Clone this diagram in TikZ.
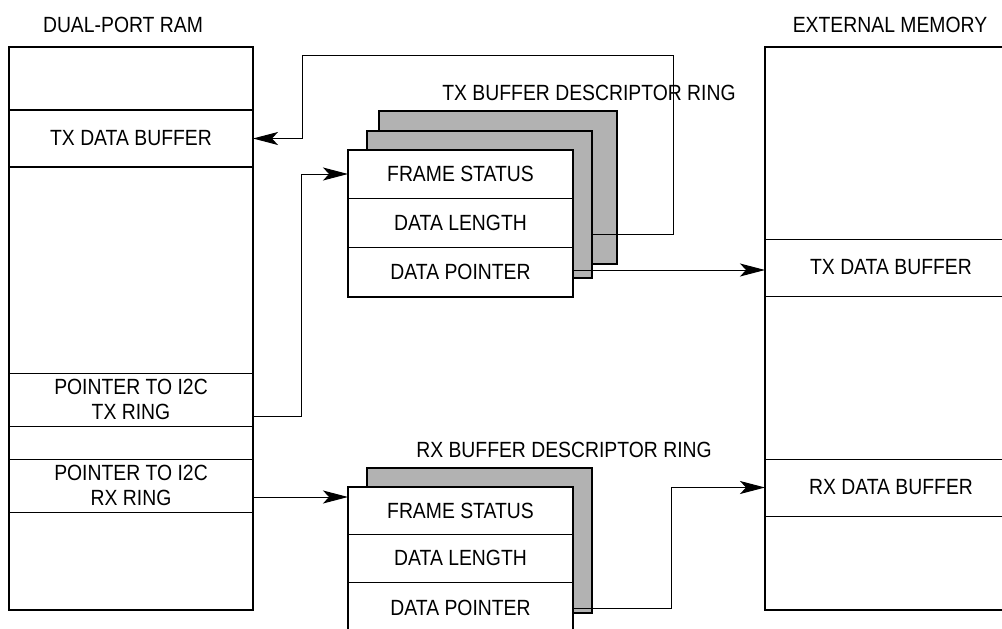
\documentclass[tikz,border=0pt]{standalone}
\usepackage{fontspec}
\setmainfont[FakeStretch=0.88]{Liberation Sans}
\usetikzlibrary{arrows.meta}

\tikzset{
  cornice/.style={draw, line width=2.5pt, inner sep=0pt, outer sep=0pt, anchor=north west},
  riga/.style={draw, line width=1pt, fill=white, inner sep=0pt, outer sep=0pt, anchor=north west, align=center},
  ombra/.style={cornice, fill=black!30},
  freccia/.style={line width=1pt, -{Stealth[length=25pt, width=13pt, inset=6pt]}}
}

\begin{document}
\begin{tikzpicture}[x=1pt, y=-1pt, every node/.style={font=\fontsize{22}{25}\selectfont}]
				\useasboundingbox (0,0) rectangle (1002,629);
				
				% Dual-port RAM
				\node (dpTitolo) at (123,25) {DUAL-PORT RAM};
				\node[riga, minimum width=244pt, minimum height=63pt] (dpTop) at (9,47) {};
				\node[riga, line width=2.5pt, minimum width=244pt, minimum height=57pt] (dpTxBuf) at (9,110) {TX DATA BUFFER};
				\node[riga, minimum width=244pt, minimum height=53pt] (dpTxPtr) at (9,373) {POINTER TO I2C\\TX RING};
				\node[riga, minimum width=244pt, minimum height=53pt] (dpRxPtr) at (9,459) {POINTER TO I2C\\RX RING};
				\node[cornice, minimum width=244pt, minimum height=563pt] (dp) at (9,47) {};
				
				% Memoria esterna
				\node (extTitolo) at (890,25) {EXTERNAL MEMORY};
				\node[riga, minimum width=252pt, minimum height=57pt] (extTx) at (765,239) {TX DATA BUFFER};
				\node[riga, minimum width=252pt, minimum height=57pt] (extRx) at (765,459) {RX DATA BUFFER};
				\node[cornice, minimum width=252pt, minimum height=563pt] (ext) at (765,47) {};
				
				% Anello TX
				\node (txEtichetta) at (589,93) {TX BUFFER DESCRIPTOR RING};
				\node[ombra, minimum width=238pt, minimum height=153pt] (txBack) at (379,111) {};
				\node[ombra, minimum width=225pt, minimum height=147pt] (txMid) at (367,131) {};
				\node[riga, minimum width=225pt, minimum height=48pt] (txFs) at (348,150) {FRAME STATUS};
				\node[riga, minimum width=225pt, minimum height=49pt] (txLen) at (348,198) {DATA LENGTH};
				\node[riga, minimum width=225pt, minimum height=50pt] (txPtr) at (348,247) {DATA POINTER};
				\node[cornice, minimum width=225pt, minimum height=147pt] (txFront) at (348,150) {};
				
				% Anello RX
				\node (rxEtichetta) at (564,450) {RX BUFFER DESCRIPTOR RING};
				\node[ombra, minimum width=225pt, minimum height=145pt] (rxBack) at (367,468) {};
				\node[riga, minimum width=225pt, minimum height=47pt] (rxFs) at (348,487) {FRAME STATUS};
				\node[riga, minimum width=225pt, minimum height=48pt] (rxLen) at (348,534) {DATA LENGTH};
				\node[riga, minimum width=225pt, minimum height=52pt] (rxPtr) at (348,582) {DATA POINTER};
				\node[cornice, minimum width=225pt, minimum height=147pt] (rxFront) at (348,487) {};
				
				% Collegamenti
				\draw[freccia] ([yshift=-29.5pt]txMid.east) -- ++(81,0) -- ++(0,-179) -| ([xshift=49pt]dpTxBuf.east) -- (dpTxBuf.east);
				\draw[freccia] ([yshift=-17pt]dpTxPtr.east) -- ++(48,0) |- (txFs.west);
				\draw[freccia] ([yshift=2pt]txPtr.east) -- ([yshift=2pt]txPtr.east -| extTx.west);
				\coordinate (rxAggancio) at ([yshift=-11.5pt]dpRxPtr.east);
				\draw[freccia] (rxAggancio) -- (rxAggancio -| rxFs.west);
				\draw[freccia] (rxPtr.east) -- ++(98,0) |- (extRx.west);
			\end{tikzpicture}
\end{document}
